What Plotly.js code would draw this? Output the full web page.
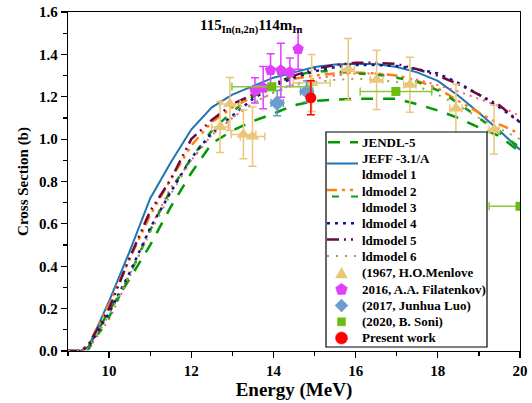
<!DOCTYPE html>
<html><head><meta charset="utf-8">
<script src="https://cdn.plot.ly/plotly-3.0.1.min.js"></script>
<style>body{margin:0;padding:0;background:#fff}#chart{width:532px;height:403px}</style>
</head><body><div id="chart"></div>
<script>
const energy = [9, 9.3, 9.5, 10, 10.5, 11, 11.5, 12, 12.5, 13, 13.5, 14, 14.5, 15, 15.5, 16, 16.5, 17, 17.5, 18, 18.5, 19, 19.5, 20];
const jendl5   = [0, 0, 0.02, 0.19, 0.34, 0.50, 0.68, 0.84, 0.98, 1.04, 1.085, 1.12, 1.16, 1.18, 1.186, 1.19, 1.19, 1.19, 1.165, 1.135, 1.10, 1.055, 1.015, 0.94];
const jeff31   = [0, 0, 0.02, 0.235, 0.47, 0.72, 0.89, 1.045, 1.15, 1.21, 1.25, 1.29, 1.315, 1.34, 1.352, 1.356, 1.355, 1.34, 1.315, 1.275, 1.205, 1.125, 1.04, 0.95];
const ldmodel1 = [0, 0, 0.01, 0.15, 0.35, 0.58, 0.77, 0.90, 1.02, 1.10, 1.17, 1.22, 1.26, 1.285, 1.30, 1.31, 1.31, 1.30, 1.28, 1.255, 1.225, 1.19, 1.155, 1.11];
const ldmodel2 = [0, 0, 0.03, 0.22, 0.435, 0.64, 0.81, 0.97, 1.08, 1.15, 1.20, 1.26, 1.285, 1.30, 1.31, 1.315, 1.31, 1.30, 1.275, 1.24, 1.18, 1.125, 1.07, 1.025];
const ldmodel3 = [0, 0, 0.01, 0.16, 0.36, 0.57, 0.76, 0.91, 1.04, 1.13, 1.20, 1.26, 1.30, 1.32, 1.32, 1.31, 1.305, 1.29, 1.27, 1.23, 1.17, 1.10, 1.03, 0.96];
const ldmodel4 = [0, 0, 0.02, 0.18, 0.37, 0.58, 0.75, 0.91, 1.03, 1.11, 1.19, 1.25, 1.29, 1.32, 1.34, 1.35, 1.35, 1.345, 1.33, 1.31, 1.265, 1.21, 1.15, 1.08];
const ldmodel5 = [0, 0, 0.03, 0.20, 0.44, 0.66, 0.81, 1.00, 1.09, 1.165, 1.21, 1.26, 1.30, 1.33, 1.35, 1.36, 1.36, 1.355, 1.33, 1.30, 1.26, 1.21, 1.16, 1.08];
const ldmodel6 = [0, 0, 0.01, 0.17, 0.36, 0.56, 0.74, 0.90, 1.02, 1.10, 1.17, 1.22, 1.255, 1.27, 1.28, 1.285, 1.28, 1.27, 1.25, 1.21, 1.16, 1.10, 1.05, 1.00];

const menloveE   = [12.70, 12.94, 13.27, 13.49, 14.93, 15.82, 16.51, 17.32, 18.44, 19.37];
const menloveXS  = [1.057, 1.166, 1.022, 1.012, 1.265, 1.330, 1.280, 1.257, 1.144, 1.045];
const menloveErr = [0.12, 0.125, 0.115, 0.14, 0.135, 0.145, 0.14, 0.13, 0.115, 0.115];
const menloveEErr= [0.2, 0.25, 0.3, 0.3, 0.45, 0.15, 0.15, 0.15, 0.15, 0.12];

const filE   = [13.55, 13.75, 13.93, 14.18, 14.40, 14.60];
const filXS  = [1.23, 1.243, 1.325, 1.325, 1.316, 1.425];
const filErr = [0.06, 0.10, 0.078, 0.127, 0.067, 0.095];

const luoE    = [14.09, 14.81];
const luoXS   = [1.17, 1.225];
const luoErr  = [0.06, 0.05];
const luoEErr = [0.15, 0.15];

const soniE    = [13.96, 16.98, 20.0];
const soniXS   = [1.247, 1.225, 0.683];
const soniEErr = [0.97, 0.87, 0.75];

const presentE   = [14.91];
const presentXS  = [1.195];
const presentErr = [0.08];

const legendLabels = ['JENDL-5', 'JEFF -3.1/A', 'ldmodel 1', 'ldmodel 2', 'ldmodel 3', 'ldmodel 4',
  'ldmodel 5', 'ldmodel 6', '(1967, H.O.Menlove', '2016, A.A. Filatenkov)', '(2017, Junhua Luo)',
  '(2020, B. Soni)', 'Present work'];

const F = 'Liberation Serif, Times New Roman, serif';
const C = {jendl: '#009a00', jeff: '#1f74b4', ld1: '#ff5a6e', ld2: '#ff8010', ld3: '#119911',
  ld4: '#0a1a8c', ld5: '#6b0a3e', ld6: '#a0a060', men: '#ebc57a', fil: '#e040fb', luo: '#6c9bd0',
  soni: '#6cbb10', soniBar: '#8cc83c', pres: '#ff0000'};
const D = {jendl: '12px,10px', jeff: 'solid', ld1: '2px,5px', ld2: '10px,5px,3px,5px,3px,5px',
  ld3: '7px,12px', ld4: '3px,5px', ld5: '12px,5px,2px,5px,2px,5px', ld6: '2px,7px'};

function line(name, y, k, width) {
  return {x: energy, y: y, name: name, type: 'scatter', mode: 'lines', showlegend: false,
          line: {color: C[k], dash: D[k], width: width}};
}
const traces = [
  line(legendLabels[0], jendl5, 'jendl', 2.5),
  line(legendLabels[1], jeff31, 'jeff', 2),
  line(legendLabels[2], ldmodel1, 'ld1', 2),
  line(legendLabels[3], ldmodel2, 'ld2', 2.5),
  line(legendLabels[4], ldmodel3, 'ld3', 2.5),
  line(legendLabels[5], ldmodel4, 'ld4', 2.5),
  line(legendLabels[6], ldmodel5, 'ld5', 2.5),
  line(legendLabels[7], ldmodel6, 'ld6', 2),
  {x: menloveE, y: menloveXS, name: legendLabels[8], type: 'scatter', mode: 'markers', showlegend: false,
   marker: {symbol: 'triangle-up', size: 12, color: C.men},
   error_y: {type: 'data', array: menloveErr, color: C.men, thickness: 1.5, width: 4},
   error_x: {type: 'data', array: menloveEErr, color: C.men, thickness: 1.5, width: 4}},
  {x: filE, y: filXS, name: legendLabels[9], type: 'scatter', mode: 'markers', showlegend: false,
   marker: {symbol: 'pentagon', size: 12, color: C.fil},
   error_y: {type: 'data', array: filErr, color: C.fil, thickness: 1.5, width: 4}},
  {x: luoE, y: luoXS, name: legendLabels[10], type: 'scatter', mode: 'markers', showlegend: false,
   marker: {symbol: 'diamond', size: 12, color: C.luo},
   error_y: {type: 'data', array: luoErr, color: C.luo, thickness: 1.5, width: 4},
   error_x: {type: 'data', array: luoEErr, color: C.luo, thickness: 1.5, width: 4}},
  {x: soniE, y: soniXS, name: legendLabels[11], type: 'scatter', mode: 'markers', showlegend: false,
   marker: {symbol: 'square', size: 9, color: C.soni},
   error_x: {type: 'data', array: soniEErr, color: C.soniBar, thickness: 1.5, width: 4}},
  {x: presentE, y: presentXS, name: legendLabels[12], type: 'scatter', mode: 'markers', showlegend: false,
   marker: {symbol: 'circle', size: 11, color: C.pres},
   error_y: {type: 'data', array: presentErr, color: C.pres, thickness: 1.5, width: 4}}
];

// ---- custom legend (pixel geometry -> paper coords) ----
const ML = 68, MT = 12, PW = 452, PH = 339;
const px = v => (v - ML) / PW;
const py = v => (MT + PH - v) / PH;
const shapes = [];
const annotations = [];
shapes.push({type: 'rect', xref: 'paper', yref: 'paper', x0: px(326), x1: px(487), y0: py(132), y1: py(347),
  line: {color: '#000', width: 1.2}, fillcolor: '#fff', layer: 'above'});
const rowY = [142.3, 158.6, 174.9, 191.2, 207.5, 223.8, 240.1, 256.4, 272.7, 289.0, 305.3, 321.6, 337.9];
rowY.forEach((y, i) => {
  annotations.push({xref: 'paper', yref: 'paper', x: px(360), y: py(y), xanchor: 'left', yanchor: 'middle',
    showarrow: false, text: legendLabels[i], font: {family: F, size: 13, color: '#000', weight: 'bold'}});
});
function lseg(x0, x1, y, k, w) {
  shapes.push({type: 'line', xref: 'paper', yref: 'paper', x0: px(x0), x1: px(x1), y0: py(y), y1: py(y),
    line: {color: C[k], dash: D[k], width: w}, layer: 'above'});
}
lseg(328, 358, 142.3, 'jendl', 2.5);
lseg(327, 358, 163.5, 'jeff', 2);
lseg(327, 357, 190, 'ld2', 2.5);
lseg(332, 359, 196.5, 'ld3', 2);
lseg(327, 357, 223.3, 'ld4', 2.5);
lseg(327, 357, 239.5, 'ld5', 2.5);
lseg(327, 357, 256, 'ld6', 2);
function poly(pts, color) {
  const d = 'M' + pts.map(p => px(p[0]) + ',' + py(p[1])).join('L') + 'Z';
  shapes.push({type: 'path', xref: 'paper', yref: 'paper', path: d, fillcolor: color,
    line: {color: color, width: 0.5}, layer: 'above'});
}
const mx = 341.5;
poly([[mx - 6, 278], [mx + 6, 278], [mx, 267.5]], C.men);
(function () {
  const pts = [], r = 6.2, cy = 289.5;
  for (let k = 0; k < 5; k++) { const a = -Math.PI / 2 + k * 2 * Math.PI / 5; pts.push([mx + r * Math.cos(a), cy + r * Math.sin(a)]); }
  poly(pts, C.fil);
})();
poly([[mx, 299], [mx + 6.5, 305.5], [mx, 312], [mx - 6.5, 305.5]], C.luo);
poly([[mx - 4, 317.8], [mx + 4, 317.8], [mx + 4, 325.8], [mx - 4, 325.8]], C.soni);
shapes.push({type: 'circle', xref: 'paper', yref: 'paper', x0: px(mx - 6), x1: px(mx + 6), y0: py(332), y1: py(344),
  fillcolor: C.pres, line: {color: C.pres, width: 0.5}, layer: 'above'});

annotations.push({x: 13.45, y: 1.53, xref: 'x', yref: 'y', showarrow: false,
  text: '115<sub>In(n,2n)</sub>114m<sub>In</sub>',
  font: {family: F, size: 15, color: '#000', weight: 'bold'}});

const axisCommon = {showline: true, mirror: true, linecolor: '#000', linewidth: 1.2,
  ticks: 'outside', ticklen: 6, tickwidth: 1.2, tickcolor: '#000', showgrid: false, zeroline: false,
  automargin: false,
  tickfont: {family: F, size: 15, color: '#000', weight: 'bold'}};

const layout = {
  width: 532, height: 403,
  margin: {l: ML, r: 12, t: MT, b: 52},
  paper_bgcolor: '#fff', plot_bgcolor: '#fff',
  showlegend: false,
  font: {family: F, color: '#000'},
  xaxis: Object.assign({}, axisCommon, {range: [9, 20], dtick: 2, tick0: 10,
    minor: {dtick: 1, ticks: 'outside', ticklen: 4, tickcolor: '#000'},
    title: {text: 'Energy (MeV)', font: {family: F, size: 19, weight: 'bold'}, standoff: 4}}),
  yaxis: Object.assign({}, axisCommon, {range: [0, 1.6], dtick: 0.2, tickformat: '.1f',
    minor: {dtick: 0.1, ticks: 'outside', ticklen: 4, tickcolor: '#000'},
    title: {text: 'Cross Section (b)', font: {family: F, size: 15, weight: 'bold'}, standoff: 6}}),
  shapes: shapes,
  annotations: annotations
};
Plotly.newPlot('chart', traces, layout, {displayModeBar: false, staticPlot: true});
</script></body></html>
